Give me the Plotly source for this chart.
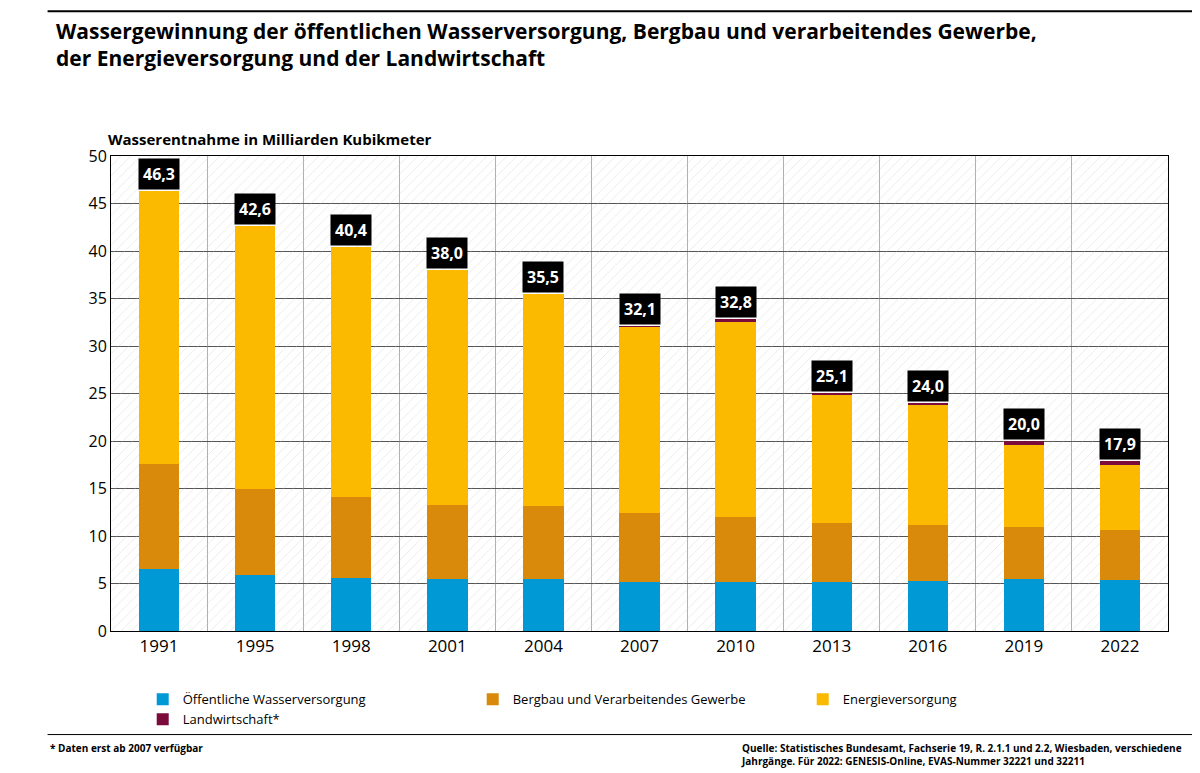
import plotly.graph_objects as go

years = ['1991', '1995', '1998', '2001', '2004', '2007', '2010', '2013', '2016', '2019', '2022']
oeffentlich = [6.5, 5.9, 5.6, 5.5, 5.5, 5.2, 5.2, 5.2, 5.3, 5.5, 5.4]
bergbau = [11.1, 9.0, 8.5, 7.8, 7.7, 7.2, 6.8, 6.2, 5.9, 5.4, 5.2]
energie = [28.7, 27.7, 26.3, 24.7, 22.3, 19.6, 20.6, 13.4, 12.6, 8.7, 6.9]
landwirtschaft = [0, 0, 0, 0, 0, 0.1, 0.2, 0.3, 0.2, 0.4, 0.4]
totals = [46.3, 42.6, 40.4, 38.0, 35.5, 32.1, 32.8, 25.1, 24.0, 20.0, 17.9]

xs = list(range(len(years)))
fig = go.Figure()

# hatched plot background (base axes, drawn beneath the overlaying bar axes)
fig.add_trace(go.Scatter(x=[-0.5, 10.5, 10.5, -0.5, -0.5], y=[0, 0, 50, 50, 0],
                         fill='toself', mode='none', fillcolor='rgba(0,0,0,0)',
                         fillpattern=dict(shape='/', fgcolor='#c8c8c8', bgcolor='rgba(0,0,0,0)',
                                          size=7, solidity=0.1),
                         showlegend=False, hoverinfo='skip'))

series = [('Öffentliche Wasserversorgung', oeffentlich, '#0099d6'),
          ('Bergbau und Verarbeitendes Gewerbe', bergbau, '#d98a0a'),
          ('Energieversorgung', energie, '#fbba00'),
          ('Landwirtschaft*', landwirtschaft, '#7b0b3b')]
for name, vals, col in series:
    fig.add_trace(go.Bar(x=xs, y=vals, name=name, marker_color=col, width=0.42,
                         marker_line_width=0, xaxis='x2', yaxis='y2'))

for i, t in enumerate(totals):
    fig.add_annotation(x=i, y=t, xref='x2', yref='y2',
                       text='<b>' + f'{t:.1f}'.replace('.', ',') + '</b>',
                       showarrow=False, yshift=17, bgcolor='black',
                       font=dict(color='white', size=16, family='Open Sans'), borderpad=4)

fig.update_layout(
    barmode='stack', width=1200, height=773, paper_bgcolor='white', plot_bgcolor='white',
    margin=dict(l=103, r=40, t=148, b=150),
    font=dict(family='Open Sans', color='black'),
    title=dict(text='<b>Wassergewinnung der öffentlichen Wasserversorgung, Bergbau und verarbeitendes Gewerbe,<br>der Energieversorgung und der Landwirtschaft</b>',
               x=0.04, xanchor='left', y=0.96, yanchor='top', font=dict(size=21)),
    legend=dict(orientation='h', x=0.03, y=-0.165, xanchor='left', yanchor='middle',
                font=dict(size=13), traceorder='normal', entrywidth=285),
    showlegend=True,
    xaxis=dict(tickvals=xs, ticktext=years, range=[-0.5, 10.5], showgrid=False,
               tickfont=dict(size=17), ticks='outside', ticklen=0,
               showline=True, linecolor='black', linewidth=1, mirror=True,
               minor=dict(tickvals=[i + 0.5 for i in xs], showgrid=True, gridcolor='#b0b0b0')),
    yaxis=dict(range=[0, 50], dtick=5, showgrid=True, gridcolor='#555', gridwidth=1,
               tickfont=dict(size=16), showline=True, linecolor='black', mirror=True,
               zeroline=False),
    xaxis2=dict(overlaying='x', range=[-0.5, 10.5], visible=False),
    yaxis2=dict(overlaying='y', range=[0, 50], visible=False),
)
fig.add_annotation(text='<b>Wasserentnahme in Milliarden Kubikmeter</b>', xref='paper', yref='paper',
                   x=-0.005, y=1.06, xanchor='left', showarrow=False, font=dict(size=15))
fig.add_annotation(text='<b>* Daten erst ab 2007 verfügbar</b>', xref='paper', yref='paper',
                   x=-0.06, y=-0.228, xanchor='left', yanchor='top', showarrow=False, font=dict(size=10))
fig.add_annotation(text='<b>Quelle: Statistisches Bundesamt, Fachserie 19, R. 2.1.1 und 2.2, Wiesbaden, verschiedene<br>Jahrgänge. Für 2022: GENESIS-Online, EVAS-Nummer 32221 und 32211</b>',
                   xref='paper', yref='paper', x=1.015, y=-0.228, xanchor='right', yanchor='top',
                   align='left', showarrow=False, font=dict(size=10))
fig.add_shape(type='line', xref='paper', yref='paper', x0=-0.06, x1=1.035, y0=1.305, y1=1.305,
              line=dict(color='black', width=2))
fig.add_shape(type='line', xref='paper', yref='paper', x0=-0.06, x1=1.035, y0=-0.218, y1=-0.218,
              line=dict(color='black', width=1))

fig.write_html('out.html')
